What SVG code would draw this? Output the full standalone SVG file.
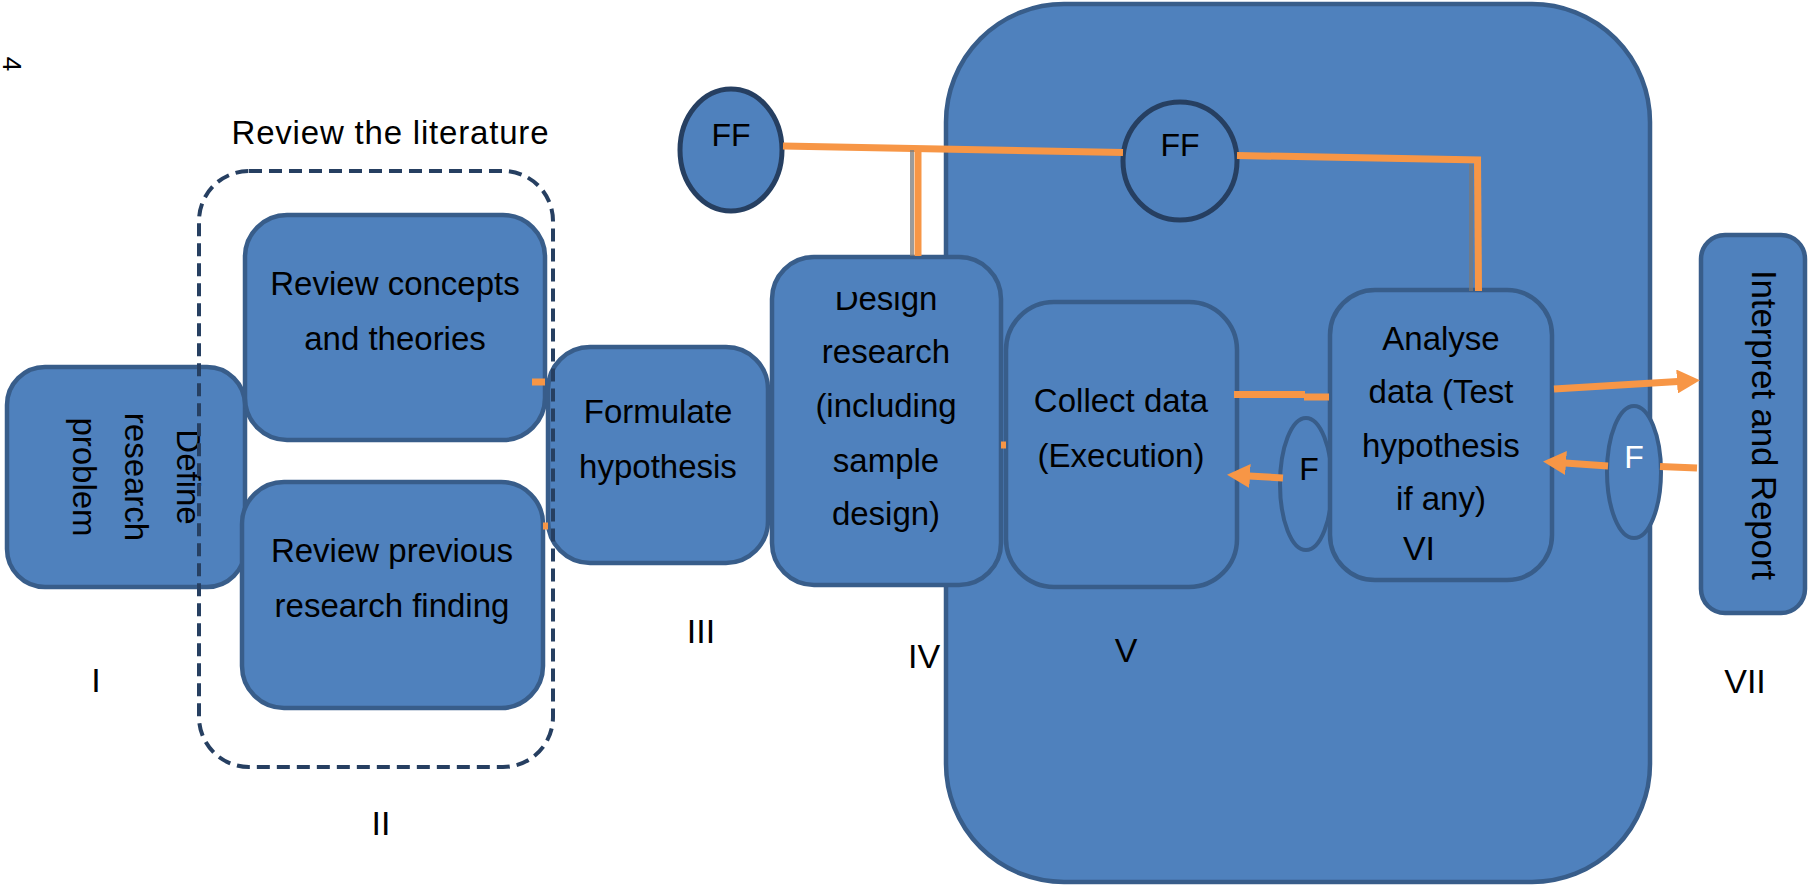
<svg xmlns="http://www.w3.org/2000/svg" width="1808" height="885" viewBox="0 0 1808 885">
<style>
  .box { fill: #4f81bd; stroke: #385d8a; stroke-width: 4.5; }
  .ff { fill: #4f81bd; stroke: #263f61; stroke-width: 5; }
  .fe { fill: #4f81bd; stroke: #385d8a; stroke-width: 4; }
  .t { font-family: "Liberation Sans", Arial, sans-serif; font-size: 33px; fill: #000; text-anchor: middle; }
  .lbl { font-family: "Liberation Sans", Arial, sans-serif; font-size: 34px; fill: #000; text-anchor: middle; }
  .c { stroke: #f79646; stroke-width: 7; fill: none; }
  .sh { stroke: #7a7a7a; stroke-width: 4; opacity: 0.75; fill: none; }
  .dash { fill: none; stroke: #263f61; stroke-width: 4; stroke-dasharray: 13 7; }
</style>
<defs>
  <marker id="ah" viewBox="0 -12 24 24" markerWidth="24" markerHeight="24" refX="1" refY="0" markerUnits="userSpaceOnUse" orient="auto">
    <path d="M0,-12 L23,0 L0,12 z" fill="#f79646"/>
  </marker>
  <clipPath id="clipDesign">
    <rect x="772" y="292" width="229" height="60"/>
  </clipPath>
</defs>
<rect width="1808" height="885" fill="#ffffff"/>

<text class="t" style="font-size:26px" transform="translate(3,64) rotate(90)">4</text>

<g id="container">
  <rect class="box" x="946" y="4" width="704" height="878" rx="118" ry="118"/>
</g>

<g id="node-define">
  <rect class="box" x="7" y="367" width="238" height="220" rx="38" ry="38"/>
  <g transform="translate(177,477) rotate(90)">
    <text class="t" x="0" y="0">Define</text>
    <text class="t" x="0" y="52">research</text>
    <text class="t" x="0" y="104">problem</text>
  </g>
</g>

<g id="node-review-concepts">
  <rect class="box" x="245" y="215" width="300" height="225" rx="42" ry="42"/>
  <text class="t" x="395" y="295">Review concepts</text>
  <text class="t" x="395" y="350">and theories</text>
</g>

<g id="node-review-previous">
  <rect class="box" x="242" y="482" width="301" height="226" rx="42" ry="42"/>
  <text class="t" x="392" y="562">Review previous</text>
  <text class="t" x="392" y="617">research finding</text>
</g>

<g id="node-formulate">
  <rect class="box" x="548" y="347" width="220" height="216" rx="42" ry="42"/>
  <text class="t" x="658" y="423">Formulate</text>
  <text class="t" x="658" y="478">hypothesis</text>
</g>

<g id="node-design">
  <rect class="box" x="772" y="257" width="229" height="328" rx="42" ry="42"/>
  <text class="t" x="886" y="310" clip-path="url(#clipDesign)">Design</text>
  <text class="t" x="886" y="363">research</text>
  <text class="t" x="886" y="417">(including</text>
  <text class="t" x="886" y="472">sample</text>
  <text class="t" x="886" y="525">design)</text>
</g>

<g id="node-collect">
  <rect class="box" x="1006" y="302" width="231" height="285" rx="48" ry="48"/>
  <text class="t" x="1121" y="412">Collect data</text>
  <text class="t" x="1121" y="467">(Execution)</text>
</g>

<g id="node-f-left">
  <ellipse class="fe" cx="1306" cy="484" rx="26" ry="66"/>
  <text class="t" x="1309" y="480" style="font-size:32px">F</text>
</g>

<g id="node-analyse">
  <rect class="box" x="1330" y="290" width="222" height="290" rx="45" ry="45"/>
  <text class="t" x="1441" y="350">Analyse</text>
  <text class="t" x="1441" y="403">data (Test</text>
  <text class="t" x="1441" y="457">hypothesis</text>
  <text class="t" x="1441" y="510">if any)</text>
  <text class="lbl" x="1419" y="560">VI</text>
</g>

<g id="node-f-right">
  <ellipse class="fe" cx="1634" cy="472" rx="27" ry="66"/>
  <text class="t" x="1634" y="468" style="font-size:32px; fill:#ffffff">F</text>
</g>

<g id="node-interpret">
  <rect class="box" x="1701" y="235" width="104" height="378" rx="24" ry="24"/>
  <text class="t" style="font-size:35px" transform="translate(1752,425) rotate(90)" textLength="310">Interpret and Report</text>
</g>

<g id="node-ff-left">
  <ellipse class="ff" cx="731" cy="150" rx="51" ry="61"/>
  <text class="t" x="731" y="146" style="font-size:32px">FF</text>
</g>

<g id="node-ff-right">
  <ellipse class="ff" cx="1180" cy="161" rx="57" ry="59"/>
  <text class="t" x="1180" y="156" style="font-size:32px">FF</text>
</g>

<g id="connectors">
  <line class="c" x1="783" y1="146" x2="1123" y2="152.5"/>
  <line class="sh" x1="912" y1="150" x2="912" y2="256"/>
  <line class="c" x1="918" y1="146" x2="918" y2="256"/>
  <line class="c" x1="1237" y1="155.5" x2="1481" y2="160"/>
  <line class="sh" x1="1471" y1="164" x2="1471" y2="291"/>
  <line class="c" x1="1477.5" y1="157" x2="1478.5" y2="291"/>
  <line class="c" x1="1554" y1="389" x2="1678" y2="381.5" marker-end="url(#ah)"/>
  <line class="c" x1="1697" y1="468" x2="1660" y2="466.5"/>
  <line class="c" x1="1608" y1="466" x2="1565" y2="463" marker-end="url(#ah)"/>
  <line class="c" x1="1283" y1="478" x2="1249" y2="476" marker-end="url(#ah)"/>
  <line class="c" x1="1234" y1="394.5" x2="1305" y2="394.5"/>
  <line class="c" x1="1304" y1="397" x2="1329" y2="397"/>
  <line class="c" x1="532" y1="382" x2="545" y2="382"/>
  <line class="c" x1="543" y1="526" x2="548" y2="526"/>
  <line class="c" x1="1001" y1="445" x2="1006" y2="445"/>
</g>

<g id="group-literature">
  <rect class="dash" x="199" y="171" width="354" height="596" rx="50" ry="50"/>
  <text class="t" x="390" y="144" textLength="317">Review the literature</text>
</g>

<g id="labels">
  <text class="lbl" x="96" y="692">I</text>
  <text class="lbl" x="381" y="835">II</text>
  <text class="lbl" x="701" y="643">III</text>
  <text class="lbl" x="924" y="668">IV</text>
  <text class="lbl" x="1126" y="662">V</text>
  <text class="lbl" x="1745" y="693">VII</text>
</g>
</svg>
